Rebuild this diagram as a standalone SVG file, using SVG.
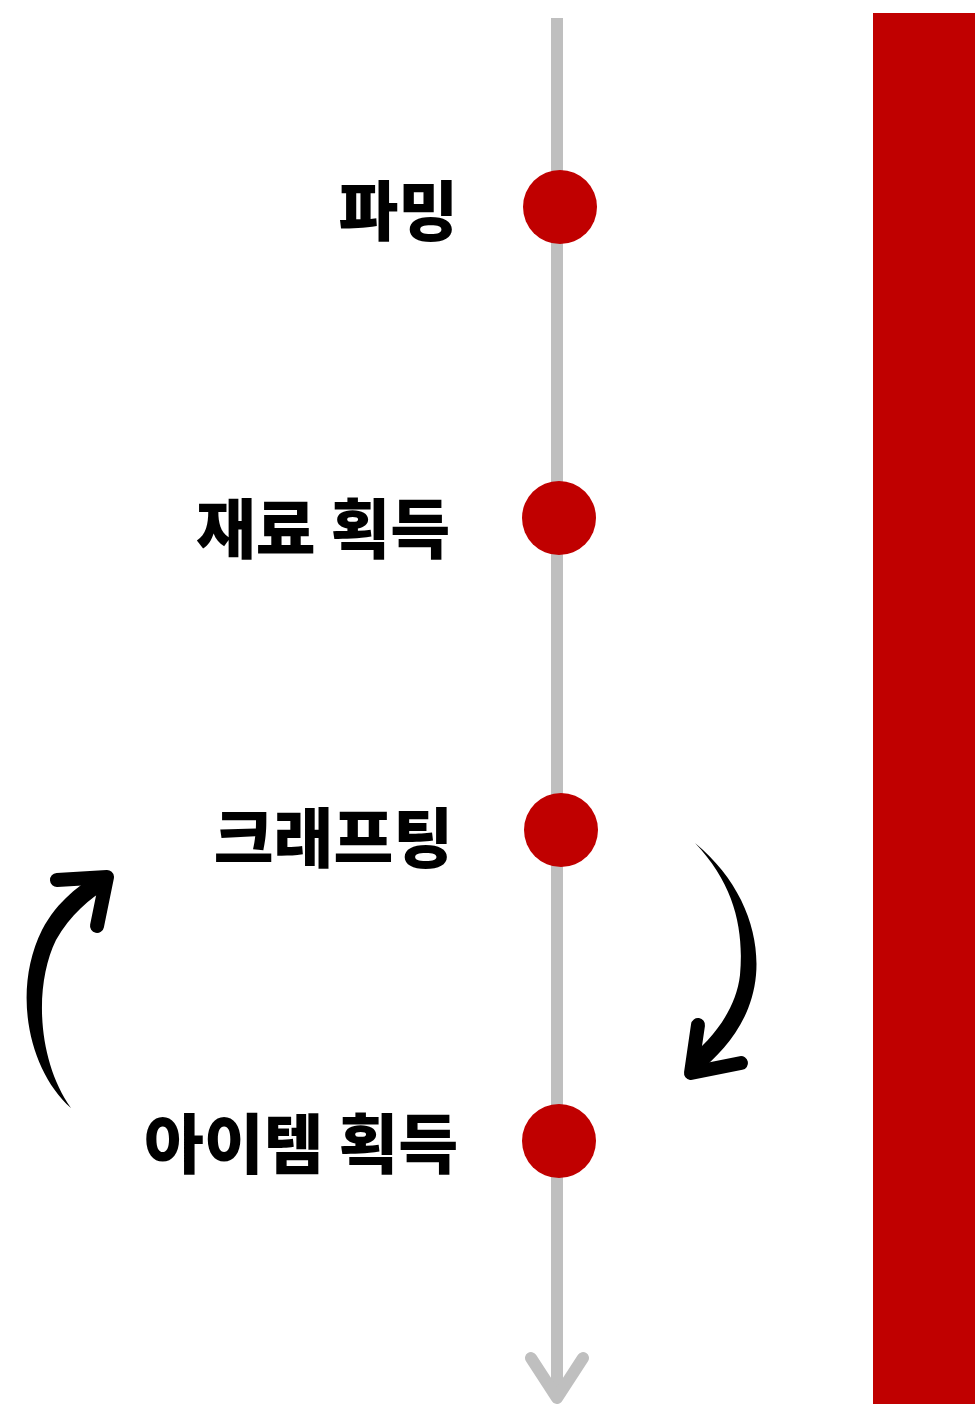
<svg xmlns="http://www.w3.org/2000/svg" width="975" height="1404" viewBox="0 0 975 1404">
<style>
.dot{fill:#c00000}
.lbl{font-family:"Noto Sans CJK KR","Noto Sans",sans-serif;font-weight:900;font-size:65px;fill:#000;text-anchor:end}
.axis{stroke:#bfbfbf;stroke-width:12;fill:none}
.head{stroke:#000;stroke-width:14;fill:none;stroke-linecap:round;stroke-linejoin:round}
</style>
<rect width="975" height="1404" fill="#fff"/>
<rect x="873" y="13" width="102" height="1391" fill="#c00000"/>
<g id="connectors">
<line class="axis" x1="557" y1="18" x2="557" y2="1396"/>
<polyline class="axis" points="531,1358 557,1398 583,1358" stroke-linecap="round" stroke-linejoin="round"/>
<path d="M71,1108 C28,1070 12,990 42,930 C58,900 80,885 100,872 L108,888 C90,898 70,915 56,940 C34,985 37,1060 71,1108 Z" fill="#000"/>
<polyline class="head" points="57,880 107,877 97,926"/>
<path d="M695,843 C740,880 760,930 756,975 C752,1020 725,1050 698,1073 L686,1060 C712,1040 736,1010 740,975 C744,930 735,885 695,843 Z" fill="#000"/>
<polyline class="head" points="698,1025 691,1073 741,1063"/>
</g>
<g id="node-farming"><circle class="dot" cx="560" cy="207" r="37"/><text class="lbl" x="458" y="235">파밍</text></g>
<g id="node-material"><circle class="dot" cx="559" cy="518" r="37"/><text class="lbl" x="450" y="553">재료 획득</text></g>
<g id="node-crafting"><circle class="dot" cx="561" cy="830" r="37"/><text class="lbl" x="453" y="862">크래프팅</text></g>
<g id="node-item"><circle class="dot" cx="559" cy="1141" r="37"/><text class="lbl" x="458" y="1168">아이템 획득</text></g>
</svg>
